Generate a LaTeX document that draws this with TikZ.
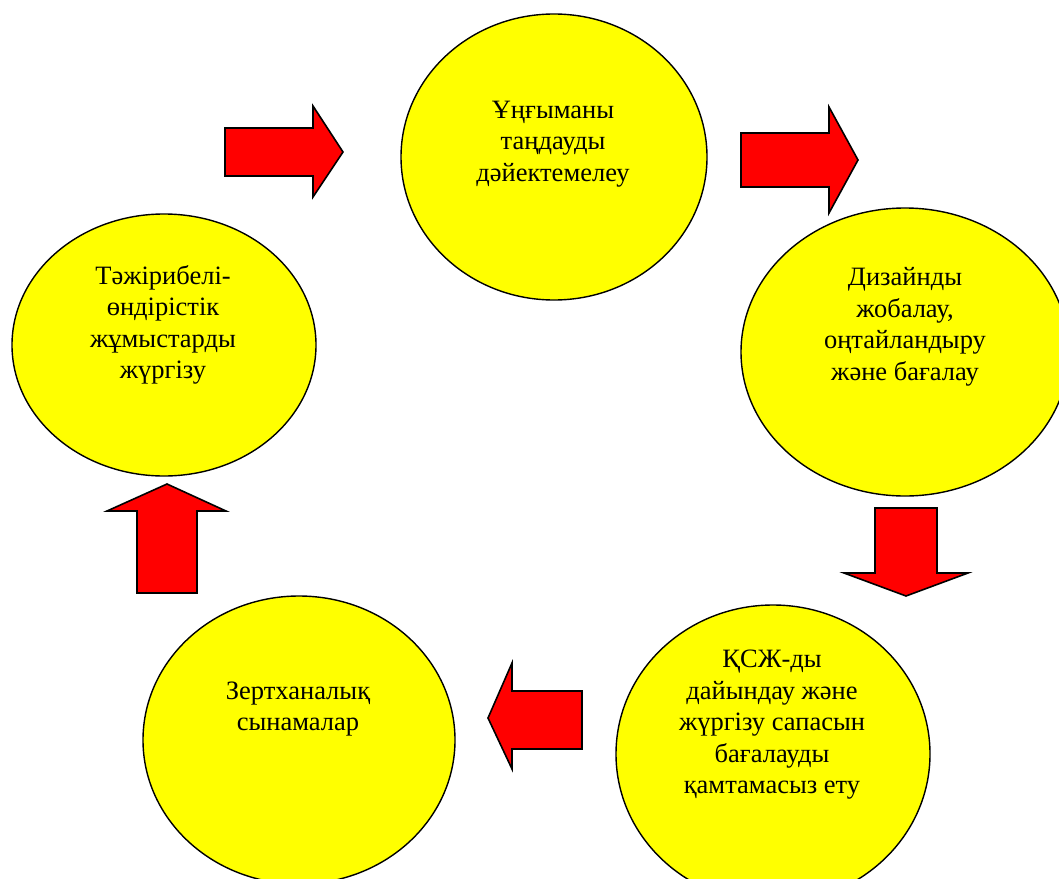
\documentclass[tikz,border=0pt]{standalone}
\usepackage{fontspec}
\setmainfont{Liberation Serif}
\usetikzlibrary{shapes.geometric}
\definecolor{ovalyellow}{RGB}{255,255,0}
\definecolor{arrowred}{RGB}{255,0,0}
\begin{document}
\begin{tikzpicture}[x=1pt, y=-1pt, line join=miter]
	\tikzset{oval/.style={ellipse, draw=black, line width=1.4pt, fill=ovalyellow, inner sep=0pt},
		captxt/.style={align=center, font=\fontsize{26.5}{31.5}\selectfont},
		blkarrow/.style={draw=black, line width=1.6pt, fill=arrowred}}
	\useasboundingbox (0,0) rectangle (1059,878);
	\clip (0,0) rectangle (1059,878);
	% ellipses
	\foreach \nm/\cx/\cy/\w/\h in {top/554/157/306/286, right/905/352/328/288,
		botright/773/754/314/298, botleft/299/740/312/288, left/164/345/304/262}{
		\node[oval, minimum width=\w pt, minimum height=\h pt] (\nm) at (\cx,\cy) {};}
	% texts
	\node[captxt] (ttop) at (553,144) {Ұңғыманы\\таңдауды\\дәйектемелеу};
	\node[captxt] (tright) at (905,327) {Дизайнды\\жобалау,\\оңтайландыру\\және бағалау};
	\node[captxt] (tbotright) at (772,725) {ҚСЖ-ды\\дайындау және\\жүргізу сапасын\\бағалауды\\қамтамасыз ету};
	\node[captxt] (tbotleft) at (298,709) {Зертханалық\\сынамалар};
	\node[captxt] (tleft) at (163,325) {Тәжірибелі-\\өндірістік\\жұмыстарды\\жүргізу};
	% block arrows
	\draw[blkarrow] (225,128) -- (313,128) -- (313,106) -- (343,152) -- (313,197) -- (313,176) -- (225,176) -- cycle;
	\draw[blkarrow] (741,133) -- (829,133) -- (829,107) -- (858,160) -- (829,213) -- (829,187) -- (741,187) -- cycle;
	\draw[blkarrow] (875,508) -- (937,508) -- (937,573) -- (968,573) -- (906,596) -- (844,573) -- (875,573) -- cycle;
	\draw[blkarrow] (582,691) -- (512,691) -- (512,663) -- (488,718) -- (512,769) -- (512,749) -- (582,749) -- cycle;
	\draw[blkarrow] (137,593) -- (137,511) -- (107,511) -- (167,484) -- (226,511) -- (197,511) -- (197,593) -- cycle;
\end{tikzpicture}
\end{document}
